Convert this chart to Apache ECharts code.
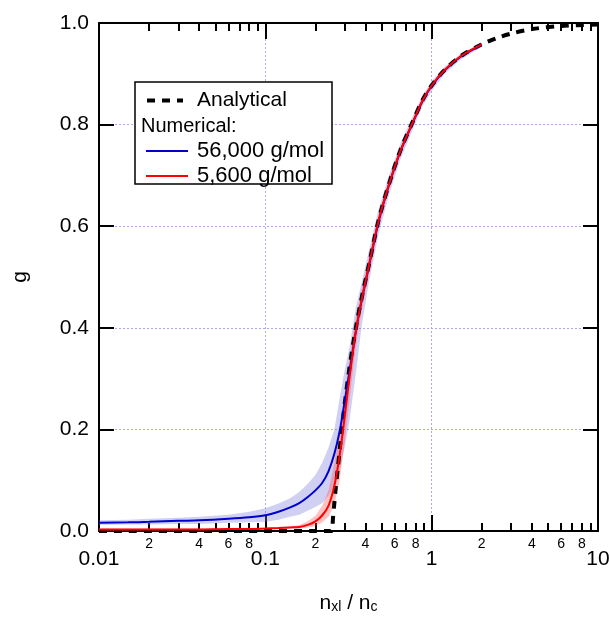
<!DOCTYPE html>
<html>
<head>
<meta charset="utf-8">
<script src="https://cdn.jsdelivr.net/npm/echarts@6/dist/echarts.min.js"></script>
<style>
    html, body {margin: 0; padding: 0; background: #fff;}
    #chart {width: 609px; height: 619px;}
</style>
</head>
<body>
<div id="chart"></div>
<script>
// analytical gel fraction
var xAnalytical = [0.01, 0.05, 0.1, 0.2, 0.25, 0.255, 0.26, 0.265, 0.272, 0.28, 0.288, 0.30, 0.32, 0.35, 0.38, 0.42,
    0.478, 0.55, 0.65, 0.78, 0.88, 1.0, 1.2, 1.5, 2.0, 2.5, 3.0, 4.0, 6.0, 10];
var gAnalytical = [0, 0, 0, 0, 0, 0.025, 0.055, 0.085, 0.12, 0.16, 0.2, 0.25, 0.32, 0.40, 0.46, 0.525,
    0.61, 0.68, 0.75, 0.81, 0.848, 0.877, 0.908, 0.935, 0.958, 0.971, 0.979, 0.988, 0.994, 0.997];

// numerical results (mean and spread)
var xNumerical = [0.01, 0.015, 0.02, 0.03, 0.04, 0.06, 0.08, 0.1, 0.12, 0.14, 0.16, 0.18, 0.2, 0.22, 0.24, 0.26, 0.28,
    0.3, 0.32, 0.35, 0.38, 0.42, 0.478, 0.55, 0.65, 0.78, 0.88, 1.0, 1.2, 1.5, 2.0];
var g56000 = [0.016, 0.017, 0.018, 0.020, 0.021, 0.024, 0.027, 0.031, 0.038, 0.046, 0.055, 0.067, 0.080, 0.095, 0.118,
    0.152, 0.197, 0.255, 0.312, 0.393, 0.455, 0.522, 0.607, 0.678, 0.748, 0.808, 0.846, 0.876, 0.907, 0.934, 0.957];
var g56000Low = [0.012, 0.013, 0.013, 0.014, 0.014, 0.016, 0.017, 0.018, 0.022, 0.028, 0.032, 0.040, 0.047, 0.055, 0.070,
    0.085, 0.120, 0.165, 0.215, 0.310, 0.405, 0.490, 0.582, 0.658, 0.732, 0.795, 0.835, 0.866, 0.900, 0.928, 0.953];
var g56000High = [0.021, 0.022, 0.024, 0.026, 0.028, 0.032, 0.038, 0.045, 0.054, 0.064, 0.077, 0.093, 0.110, 0.135, 0.165,
    0.200, 0.262, 0.317, 0.360, 0.440, 0.490, 0.553, 0.632, 0.698, 0.764, 0.821, 0.857, 0.886, 0.914, 0.940, 0.961];
var g5600 = [0.003, 0.003, 0.003, 0.003, 0.003, 0.004, 0.004, 0.005, 0.006, 0.007, 0.008, 0.012, 0.019, 0.031, 0.050,
    0.089, 0.150, 0.225, 0.300, 0.393, 0.456, 0.523, 0.609, 0.679, 0.749, 0.809, 0.847, 0.877, 0.908, 0.935, 0.958];
var g5600Low = [0.001, 0.001, 0.001, 0.001, 0.001, 0.002, 0.002, 0.003, 0.004, 0.005, 0.005, 0.007, 0.010, 0.017, 0.028,
    0.052, 0.100, 0.175, 0.255, 0.365, 0.435, 0.505, 0.595, 0.668, 0.741, 0.803, 0.842, 0.873, 0.905, 0.932, 0.955];
var g5600High = [0.005, 0.005, 0.005, 0.005, 0.005, 0.006, 0.006, 0.007, 0.008, 0.009, 0.012, 0.019, 0.030, 0.050, 0.080,
    0.135, 0.200, 0.270, 0.340, 0.420, 0.477, 0.540, 0.622, 0.690, 0.757, 0.815, 0.852, 0.881, 0.911, 0.938, 0.961];

// log axis ticks
var majorTicks = [0.01, 0.1, 1, 10];
var majorLabels = ['0.01', '0.1', '1', '10'];
var minorTicks = [0.02, 0.03, 0.04, 0.05, 0.06, 0.07, 0.08, 0.09,
    0.2, 0.3, 0.4, 0.5, 0.6, 0.7, 0.8, 0.9,
    2, 3, 4, 5, 6, 7, 8, 9];
var minorLabelTicks = [0.02, 0.04, 0.06, 0.08, 0.2, 0.4, 0.6, 0.8, 2, 4, 6, 8];
var minorLabels = ['2', '4', '6', '8', '2', '4', '6', '8', '2', '4', '6', '8'];

var FONT = 'Liberation Sans';
var lg = function (v) { return Math.log10(v); };

function pickLabel(ticks, labels) {
    return function (v) {
        for (var i = 0; i < ticks.length; i++) {
            if (Math.abs(lg(ticks[i]) - v) < 1e-6) return labels[i];
        }
        return '';
    };
}

function pairs(xs, ys) {
    return xs.map(function (x, i) { return [lg(x), ys[i]]; });
}

// shaded spread drawn as one polygon through the axis scales
function band(low, high, color) {
    return {
        type: 'custom',
        silent: true,
        z: 1,
        data: xNumerical.map(function (x, i) { return [lg(x), low[i], high[i]]; }),
        encode: {x: 0, y: [1, 2]},
        renderItem: function (params, api) {
            if (params.dataIndex !== 0) return null;
            let pts = [];
            for (let i = 0; i < xNumerical.length; i++) {
                pts.push(api.coord([lg(xNumerical[i]), high[i]]));
            }
            for (let i = xNumerical.length - 1; i >= 0; i--) {
                pts.push(api.coord([lg(xNumerical[i]), low[i]]));
            }
            return {type: 'polygon', shape: {points: pts}, style: {fill: color}};
        }
    };
}

var black = {color: '#000', width: 2};
var gridLine = {show: true, lineStyle: {color: '#a8a8f4', type: [2, 2], width: 1}};
var xBase = {type: 'value', min: -2, max: 1, gridIndex: 0};
var noSymbol = {color: 'rgba(0,0,0,0)', borderColor: 'rgba(0,0,0,0)', borderWidth: 0, opacity: 0};

let chart = echarts.init(document.getElementById('chart'));
chart.setOption({
    animation: false,
    backgroundColor: '#fff',
    textStyle: {fontFamily: FONT},
    grid: {left: 99, right: 11, top: 23, bottom: 88, outerBoundsMode: 'none', containLabel: false},
    xAxis: [
        Object.assign({}, xBase, {
            position: 'bottom',
            axisLine: {show: true, onZero: false, lineStyle: black},
            axisTick: {show: true, inside: true, length: 16, lineStyle: black, customValues: majorTicks.map(lg)},
            axisLabel: {
                show: true, customValues: majorTicks.map(lg), formatter: pickLabel(majorTicks, majorLabels),
                fontSize: 21, color: '#000', margin: 18, fontFamily: FONT
            },
            splitLine: gridLine,
            name: '{n|n}{s|xl}{n| / n}{s|c}',
            nameLocation: 'middle',
            nameGap: 57,
            nameTextStyle: {
                rich: {
                    n: {fontSize: 21, color: '#000', fontFamily: FONT, verticalAlign: 'bottom', lineHeight: 26},
                    s: {fontSize: 14, color: '#000', fontFamily: FONT, verticalAlign: 'bottom', padding: [10, 0, 0, 0]}
                }
            }
        }),
        Object.assign({}, xBase, {
            position: 'bottom',
            axisLine: {show: false, onZero: false},
            axisTick: {show: true, inside: true, length: 8, lineStyle: black, customValues: minorTicks.map(lg)},
            axisLabel: {
                show: true, customValues: minorLabelTicks.map(lg), formatter: pickLabel(minorLabelTicks, minorLabels),
                fontSize: 14, color: '#000', margin: 6, fontFamily: FONT
            },
            splitLine: {show: false}
        }),
        Object.assign({}, xBase, {
            position: 'top',
            axisLine: {show: true, onZero: false, lineStyle: black},
            axisTick: {show: true, inside: true, length: 16, lineStyle: black, customValues: majorTicks.map(lg)},
            axisLabel: {show: false},
            splitLine: {show: false}
        }),
        Object.assign({}, xBase, {
            position: 'top',
            axisLine: {show: false, onZero: false},
            axisTick: {show: true, inside: true, length: 8, lineStyle: black, customValues: minorTicks.map(lg)},
            axisLabel: {show: false},
            splitLine: {show: false}
        })
    ],
    yAxis: [
        {
            type: 'value', position: 'left', min: 0, max: 1, interval: 0.2,
            axisLine: {show: true, onZero: false, lineStyle: black},
            axisTick: {show: true, inside: true, length: 15, lineStyle: black},
            axisLabel: {
                fontSize: 21, color: '#000', margin: 10, fontFamily: FONT,
                formatter: function (v) { return v.toFixed(1); }
            },
            splitLine: gridLine,
            name: 'g',
            nameLocation: 'middle',
            nameGap: 68,
            nameTextStyle: {fontSize: 21, color: '#000', fontFamily: FONT}
        },
        {
            type: 'value', position: 'right', min: 0, max: 1, interval: 0.2,
            axisLine: {show: true, onZero: false, lineStyle: black},
            axisTick: {show: true, inside: true, length: 15, lineStyle: black},
            axisLabel: {show: false},
            splitLine: {show: false}
        }
    ],
    legend: [
        {
            data: ['Analytical'],
            left: 145, top: 90, padding: 0,
            itemWidth: 36, itemHeight: 14,
            selectedMode: false,
            z: 20,
            itemStyle: noSymbol,
            lineStyle: {width: 4},
            textStyle: {fontSize: 21, color: '#000', fontFamily: FONT, padding: [0, 0, 0, 9]}
        },
        {
            data: ['56,000 g/mol', '5,600 g/mol'],
            orient: 'vertical',
            left: 145, top: 140, padding: 0,
            itemWidth: 42, itemHeight: 14, itemGap: 3,
            selectedMode: false,
            z: 20,
            itemStyle: noSymbol,
            lineStyle: {width: 2},
            textStyle: {fontSize: 22, color: '#000', fontFamily: FONT, padding: [0, 0, 0, 4]}
        }
    ],
    graphic: [
        {
            type: 'rect', z: 15,
            shape: {x: 135, y: 82, width: 197, height: 102},
            style: {fill: '#fff', stroke: '#000', lineWidth: 1.5}
        },
        {
            type: 'text', z: 20, x: 141, y: 126,
            style: {text: 'Numerical:', fontSize: 20, fontFamily: FONT, fill: '#000', verticalAlign: 'middle'}
        }
    ],
    series: [
        band(g56000Low, g56000High, 'rgba(120, 120, 220, 0.35)'),
        band(g5600Low, g5600High, 'rgba(255, 80, 80, 0.35)'),
        {
            name: 'Analytical',
            type: 'line',
            data: pairs(xAnalytical, gAnalytical),
            symbol: 'none',
            smooth: 0.3,
            clip: false,
            z: 3,
            itemStyle: {color: '#000'},
            lineStyle: {color: '#000', width: 4, type: [8, 7]}
        },
        {
            name: '56,000 g/mol',
            type: 'line',
            data: pairs(xNumerical, g56000),
            symbol: 'none',
            smooth: 0.3,
            clip: false,
            z: 4,
            itemStyle: {color: '#0000cc'},
            lineStyle: {color: '#0000cc', width: 2}
        },
        {
            name: '5,600 g/mol',
            type: 'line',
            data: pairs(xNumerical, g5600),
            symbol: 'none',
            smooth: 0.3,
            clip: false,
            z: 5,
            itemStyle: {color: '#ff0000'},
            lineStyle: {color: '#ff0000', width: 2}
        }
    ]
});
</script>
</body>
</html>
